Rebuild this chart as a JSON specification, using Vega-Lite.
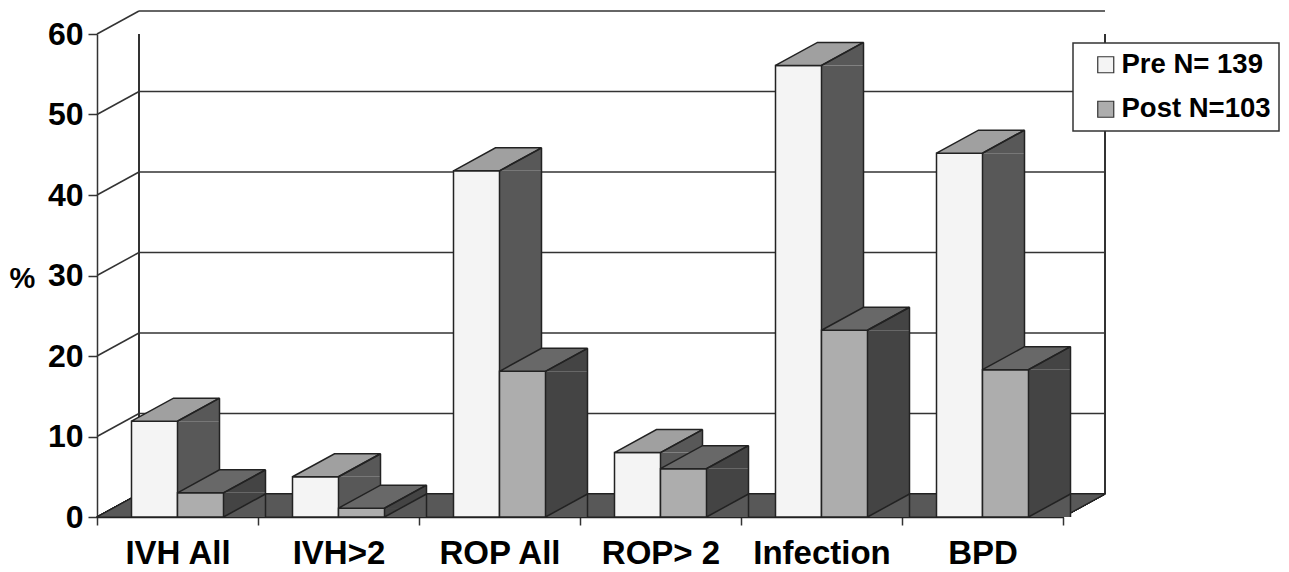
{
"$schema":"https://vega.github.io/schema/vega-lite/v6.json",
"width":966,"height":483,
"autosize":{"type":"none"},
"padding":{"left":97,"top":34,"right":226,"bottom":55},
"background":"white",
"datasets":{
"grid":[{"value":0},{"value":10},{"value":20},{"value":30},{"value":40},{"value":50},{"value":60}],
"bars":[
{"group":"IVH All","series":"Pre N= 139","value":11.9},
{"group":"IVH>2","series":"Pre N= 139","value":5},
{"group":"ROP All","series":"Pre N= 139","value":43},
{"group":"ROP> 2","series":"Pre N= 139","value":8},
{"group":"Infection","series":"Pre N= 139","value":56.1},
{"group":"BPD","series":"Pre N= 139","value":45.2},
{"group":"IVH All","series":"Post N=103","value":3},
{"group":"IVH>2","series":"Post N=103","value":1.1},
{"group":"ROP All","series":"Post N=103","value":18.1},
{"group":"ROP> 2","series":"Post N=103","value":6},
{"group":"Infection","series":"Post N=103","value":23.2},
{"group":"BPD","series":"Post N=103","value":18.3}
]},
"data":{"name":"grid"},
"layer":[
{"mark":{"type":"rule","color":"#333","strokeWidth":1.5,"yOffset":-23},
 "encoding":{"x":{"value":42},"x2":{"value":1008},"y":{"field":"value","type":"quantitative","title":"%","scale":{"domain":[0,60],"nice":false},"axis":{"values":[0,10,20,30,40,50,60]}}}},
{"mark":{"type":"rule","color":"#333","strokeWidth":1.5,"xOffset":966,"yOffset":-23},
 "encoding":{"x":{"value":42},"y":{"datum":0,"type":"quantitative","title":"%"},"y2":{"datum":60}}},
{"mark":{"type":"rule","color":"#333","strokeWidth":1.5,"yOffset":-23},
 "encoding":{"x":{"value":42},"y":{"datum":0,"type":"quantitative","title":"%"},"y2":{"datum":60}}},
{"mark":{"type":"point","shape":"M0,0L42,-23","size":4,"filled":false,"stroke":"#333","strokeWidth":1.5,"opacity":1},
 "encoding":{"x":{"value":0},"y":{"field":"value","type":"quantitative","title":"%"}}},
{"mark":{"type":"point","shape":"M0,0L966,0L1008,-23L42,-23Z","size":4,"filled":true,"fill":"#585858","stroke":"#222","strokeWidth":1.2,"opacity":1},
 "encoding":{"x":{"value":0},"y":{"datum":0,"type":"quantitative","title":"%"}}},
{"data":{"name":"bars"},
 "encoding":{
  "x":{"field":"group","type":"nominal","title":null,"sort":null,"scale":{"type":"band","domain":["IVH All","IVH>2","ROP All","ROP> 2","Infection","BPD"],"paddingInner":0,"paddingOuter":0}},
  "y":{"field":"value","type":"quantitative","title":"%","stack":null}},
 "layer":[
  {"transform":[{"filter":"datum.series=='Pre N= 139'"}],
   "layer":[
    {"mark":{"type":"bar","width":42,"xOffset":21,"color":"#585858"}},
    {"mark":{"type":"point","shape":"M0,0L42,-23L42,0Z","size":4,"filled":true,"fill":"#585858","stroke":null,"opacity":1}},
    {"mark":{"type":"rule","color":"#222","strokeWidth":1.5,"xOffset":42,"yOffset":-23},"encoding":{"y2":{"datum":0}}},
    {"mark":{"type":"bar","width":46,"xOffset":-23,"stroke":"#222","strokeWidth":1.5,"opacity":1},
     "encoding":{"color":{"field":"series","type":"nominal","title":null,"scale":{"domain":["Pre N= 139","Post N=103"],"range":["#f4f4f4","#adadad"]}}}},
    {"mark":{"type":"point","shape":"M0,0L46,0L88,-23L42,-23Z","size":4,"filled":true,"fill":"#a0a0a0","stroke":"#222","strokeWidth":1.5,"opacity":1,"xOffset":-46}},
    {"mark":{"type":"point","shape":"M0,0L42,-23","size":4,"filled":false,"stroke":"#222","strokeWidth":1.5,"opacity":1}}
   ]},
  {"transform":[{"filter":"datum.series=='Post N=103'"}],
   "layer":[
    {"mark":{"type":"bar","width":42,"xOffset":67,"color":"#444444"}},
    {"mark":{"type":"point","shape":"M0,0L42,-23L42,0Z","size":4,"filled":true,"fill":"#444444","stroke":null,"opacity":1,"xOffset":46}},
    {"mark":{"type":"point","shape":"M0,0L42,-23L42,0Z","size":4,"filled":true,"fill":"#585858","stroke":null,"opacity":1,"xOffset":46},"encoding":{"y":{"datum":0,"type":"quantitative","title":"%"}}},
    {"mark":{"type":"point","shape":"M0,0L42,-23","size":4,"filled":false,"stroke":"#222","strokeWidth":1.5,"opacity":1,"xOffset":46},"encoding":{"y":{"datum":0,"type":"quantitative","title":"%"}}},
    {"mark":{"type":"rule","color":"#222","strokeWidth":1.5,"xOffset":88,"yOffset":-23},"encoding":{"y2":{"datum":0}}},
    {"mark":{"type":"bar","width":46,"xOffset":23,"stroke":"#222","strokeWidth":1.5,"opacity":1},
     "encoding":{"color":{"field":"series","type":"nominal","title":null}}},
    {"mark":{"type":"point","shape":"M0,0L46,0L88,-23L42,-23Z","size":4,"filled":true,"fill":"#686868","stroke":"#222","strokeWidth":1.5,"opacity":1}},
    {"mark":{"type":"point","shape":"M0,0L42,-23","size":4,"filled":false,"stroke":"#222","strokeWidth":1.5,"opacity":1,"xOffset":46}}
   ]}
 ]}
],
"config":{
 "view":{"stroke":null},
 "font":"Liberation Sans",
 "axisX":{"grid":false,"labelAngle":0,"tickBand":"extent","tickSize":8,"tickWidth":1.5,"tickColor":"#333","domainColor":"#222","domainWidth":1.5,"labelFont":"Liberation Sans","labelFontSize":33,"labelFontWeight":"bold","labelColor":"#000","labelPadding":12},
 "axisY":{"grid":false,"tickSize":9,"tickWidth":1.5,"tickColor":"#333","domainColor":"#333","domainWidth":1.5,"labelFont":"Liberation Sans","labelFontSize":32,"labelFontWeight":"bold","labelColor":"#000","labelPadding":5,"titleFont":"Liberation Sans","titleFontSize":29,"titleFontWeight":"bold","titleColor":"#000","titleAngle":0,"titleX":-75,"titleY":244,"titleAlign":"center","titleBaseline":"middle"},
 "legend":{"orient":"none","legendX":976,"legendY":9,"fillColor":"white","strokeColor":"#333","strokeWidth":1.5,"padding":8,"rowPadding":15.5,"symbolType":"square","symbolSize":256,"symbolOffset":11,"symbolStrokeColor":"#333","symbolStrokeWidth":1.2,"labelFont":"Liberation Sans","labelFontSize":27.5,"labelFontWeight":"bold","labelColor":"#000","labelLimit":300,"labelOffset":2}
}
}
